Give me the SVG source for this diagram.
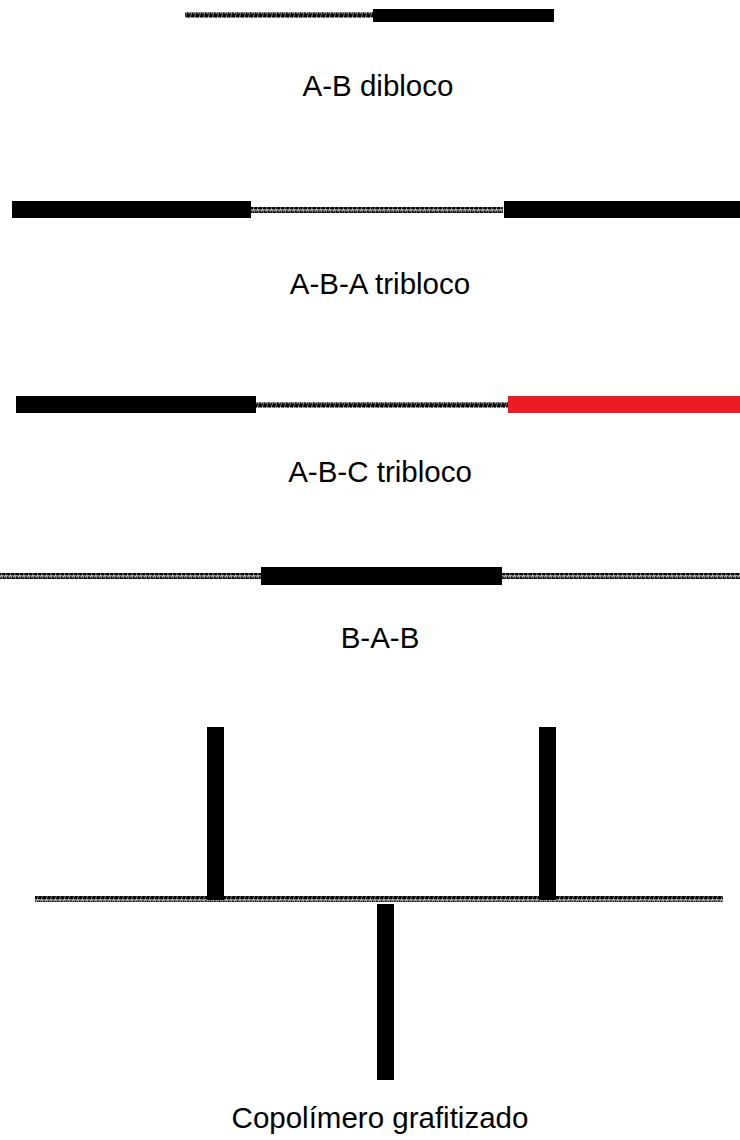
<svg xmlns="http://www.w3.org/2000/svg" width="740" height="1140" viewBox="0 0 740 1140">
<style>
.lbl{font-family:"Liberation Sans",Arial,sans-serif;font-size:29.5px;fill:#000;text-anchor:middle}
.blk{fill:#000}
.red{fill:#ed1c24}
.wav{fill:url(#wave)}
</style>
<defs>
<pattern id="wave" patternUnits="userSpaceOnUse" width="4.5" height="6">
<path d="M0,5.5 L1.5,0.5 M2.2,5.5 L3.7,0.5 M4.5,5.5 L3.2,0.5" fill="none" stroke="#000" stroke-width="1.6"/>
</pattern>
</defs>
<g id="diblock">
<rect class="wav" x="185" y="12" width="188" height="6"/>
<rect class="blk" x="373" y="9" width="181" height="13"/>
<text class="lbl" x="378" y="96">A-B dibloco</text>
</g>
<g id="triblock-aba">
<rect class="blk" x="12" y="201" width="239" height="17"/>
<rect class="wav" x="251" y="207" width="252" height="6"/>
<rect class="blk" x="504" y="201" width="236" height="17"/>
<text class="lbl" x="380" y="294">A-B-A tribloco</text>
</g>
<g id="triblock-abc">
<rect class="blk" x="16" y="396" width="240" height="17"/>
<rect class="wav" x="256" y="402" width="252" height="6"/>
<rect class="red" x="508" y="396" width="232" height="17"/>
<text class="lbl" x="380" y="482">A-B-C tribloco</text>
</g>
<g id="bab">
<rect class="wav" x="0" y="573" width="261" height="6"/>
<rect class="blk" x="261" y="567" width="241" height="18"/>
<rect class="wav" x="502" y="573" width="238" height="6"/>
<text class="lbl" x="380" y="648">B-A-B</text>
</g>
<g id="graft">
<rect class="blk" x="207" y="727" width="17" height="173"/>
<rect class="blk" x="539" y="727" width="17" height="173"/>
<rect class="blk" x="377" y="904" width="17" height="176"/>
<rect class="wav" x="35" y="896" width="688" height="6"/>
<text class="lbl" x="380" y="1128">Copolímero grafitizado</text>
</g>
</svg>
